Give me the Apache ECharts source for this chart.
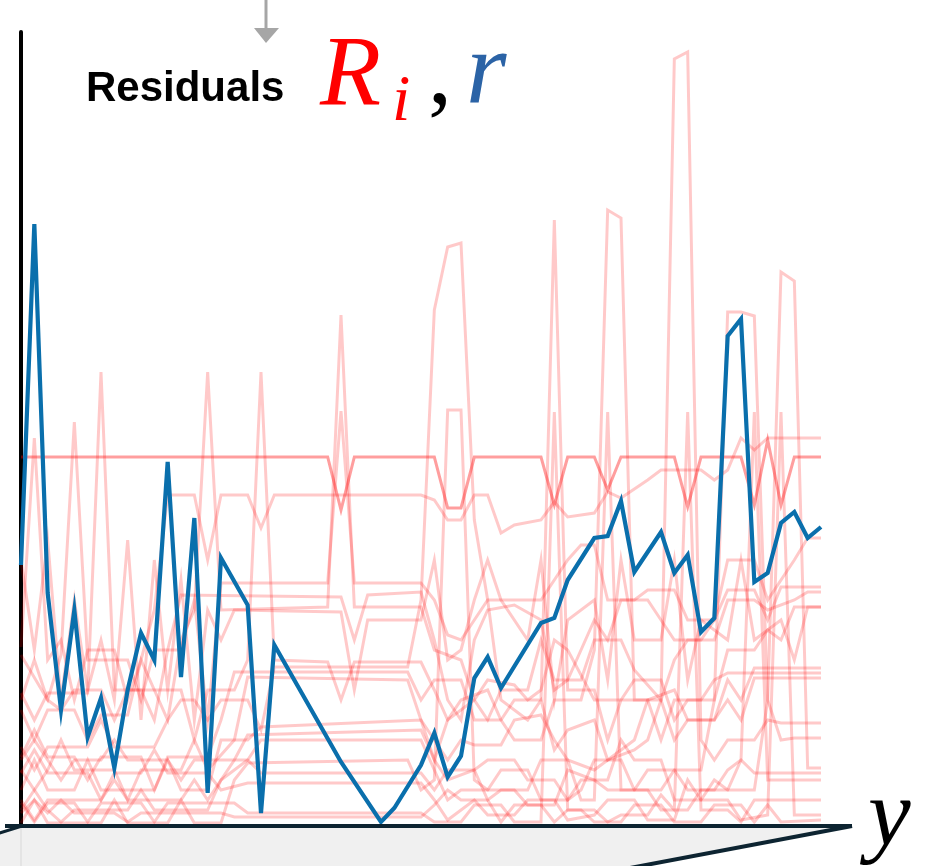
<!DOCTYPE html>
<html><head><meta charset="utf-8">
<script src="https://cdn.jsdelivr.net/npm/echarts@6/dist/echarts.min.js"></script>
<style>html,body{margin:0;padding:0;background:#fff}#c{width:931px;height:866px}</style>
</head><body><div id="c"></div>
<script>
// x = sample index along sorted y (0..60); values = residuals (arbitrary units)
const blueR = [[0,2.60],[1,6.01],[2,2.32],[3,1.15],[4,2.15],[5,0.88],[6,1.27],[7,0.57],[8,1.35],[9,1.92],[10,1.65],[11,3.63],[12,1.48],[13,3.07],[14,0.32],[15,2.67],[17,2.20],[18,0.12],[19,1.80],[24,0.63],[27,0.03],[28,0.17],[30,0.60],[31,0.92],[32,0.48],[33,0.69],[34,1.47],[35,1.68],[36,1.37],[39,2.02],[40,2.07],[41,2.45],[43,2.87],[44,2.89],[45,3.24],[46,2.53],[48,2.93],[49,2.52],[50,2.70],[51,1.93],[52,2.07],[53,4.89],[54,5.06],[55,2.43],[56,2.52],[57,3.02],[58,3.13],[59,2.87],[60,2.98]];

const red0 = [[0,3.68],[23,3.68],[24,3.15],[25,3.68],[31,3.68],[32,3.17],[33,3.17],[34,3.68],[39,3.68],[40,3.20],[41,3.68],[43,3.68],[44,3.35],[45,3.68],[49,3.68],[50,3.18],[51,3.68],[54,3.68],[55,3.20],[56,3.85],[57,3.20],[58,3.68],[60,3.68]];
const red1 = [[0,1.78],[1,3.87],[2,1.65],[3,1.85],[4,1.25],[5,1.75],[7,1.75],[8,1.25],[9,1.65],[10,2.15],[11,3.30],[13,3.30],[14,2.65],[15,3.30],[17,3.30],[18,2.97],[19,3.30],[30,3.30],[31,3.25],[32,3.05],[33,3.05],[34,3.30],[35,3.30],[36,2.92],[37,3.00],[39,3.05],[40,3.23],[41,3.08],[43,3.12],[44,3.33],[45,3.27],[47,3.45],[48,3.55],[51,3.55],[52,3.45],[53,3.55],[54,3.87],[55,3.75],[56,3.87],[60,3.87]];
const red2 = [[0,1.70],[2,1.25],[3,1.70],[4,4.03],[5,1.65],[8,1.65],[9,1.25],[10,1.75],[12,1.75],[13,2.25],[14,1.05],[15,2.42],[23,2.42],[24,4.14],[25,2.42],[30,2.42],[31,2.25],[32,1.90],[33,1.85],[35,2.25],[36,2.25],[39,2.25],[41,2.65],[42,2.80],[43,2.80],[44,2.25],[46,2.25],[47,2.35],[49,2.35],[50,2.05],[52,2.05],[53,2.65],[55,2.65],[56,2.25],[58,2.65],[59,2.87],[60,2.87]];
const red3 = [[0,1.32],[1,1.05],[2,1.32],[5,1.32],[6,4.53],[7,1.35],[9,1.35],[10,1.05],[11,1.75],[12,2.30],[24,2.28],[25,1.85],[26,2.30],[30,2.33],[31,1.85],[32,1.25],[33,1.05],[34,1.85],[35,2.15],[37,2.20],[39,2.05],[40,1.35],[41,1.45],[43,2.05],[44,1.85],[45,2.25],[47,2.25],[48,2.05],[49,1.85],[51,1.85],[52,2.05],[53,2.35],[55,2.35],[56,2.05],[57,2.38],[60,2.38]];
const red4 = [[0,1.25],[1,1.65],[2,1.25],[3,1.15],[4,1.35],[6,1.35],[7,1.05],[8,1.35],[10,1.35],[11,1.05],[12,1.85],[13,2.15],[14,4.53],[15,2.15],[23,2.18],[24,5.10],[25,2.18],[30,2.18],[31,1.75],[33,1.65],[34,1.25],[35,1.05],[36,1.35],[38,1.35],[39,1.85],[40,1.45],[42,1.45],[43,1.85],[45,1.85],[46,1.55],[48,1.25],[49,1.65],[50,1.85],[52,1.85],[53,2.25],[55,2.25],[56,2.15],[58,2.25],[59,2.33],[60,2.33]];
const red5 = [[0,1.15],[1,0.85],[2,1.15],[4,1.15],[5,0.85],[6,1.10],[8,1.10],[9,1.65],[10,1.35],[12,1.35],[13,0.85],[14,1.35],[16,1.35],[17,1.65],[18,4.53],[19,1.65],[23,1.63],[24,1.25],[25,1.63],[30,1.63],[31,1.35],[32,1.05],[34,1.25],[35,1.45],[37,1.40],[38,1.25],[39,1.35],[40,1.85],[41,1.75],[43,1.25],[45,1.25],[46,1.45],[48,1.45],[49,1.05],[50,1.25],[52,1.25],[53,1.75],[55,1.75],[56,1.95],[57,1.85],[58,2.18],[60,2.18]];
const red6 = [[0,0.78],[1,0.55],[2,0.78],[5,0.78],[6,1.05],[7,0.78],[10,0.78],[11,1.05],[12,1.25],[13,1.25],[14,1.05],[15,1.25],[17,1.25],[18,0.95],[19,1.58],[29,1.58],[30,2.25],[31,5.15],[32,5.78],[33,5.82],[34,3.05],[35,2.25],[36,1.25],[38,1.05],[39,1.25],[40,0.75],[41,0.95],[43,1.05],[44,0.65],[46,0.85],[47,1.25],[49,1.35],[50,1.05],[52,1.05],[53,1.45],[54,1.25],[55,1.57],[60,1.57]];
const red7 = [[0,0.68],[1,0.95],[2,0.68],[4,0.68],[5,0.45],[6,0.68],[9,0.68],[10,0.35],[11,0.68],[14,0.68],[15,1.05],[16,1.53],[29,1.53],[30,1.25],[31,1.45],[33,1.45],[34,1.05],[36,1.05],[37,1.25],[39,1.25],[40,6.05],[41,1.35],[43,1.35],[44,0.85],[45,1.25],[47,1.25],[48,0.85],[49,1.25],[51,1.25],[52,1.45],[53,1.52],[60,1.52]];
const red8 = [[0,0.55],[1,0.35],[2,0.55],[3,0.85],[4,0.55],[7,0.55],[8,0.25],[9,0.55],[12,0.55],[13,0.85],[14,0.55],[16,0.85],[17,1.48],[29,1.45],[30,1.05],[31,0.65],[32,1.05],[33,1.25],[35,1.35],[36,1.05],[37,0.85],[39,0.85],[40,1.25],[42,1.25],[43,1.75],[44,6.15],[45,6.07],[46,1.25],[48,1.25],[49,0.85],[50,1.05],[52,1.05],[53,1.25],[54,1.05],[55,1.47],[60,1.47]];
const red9 = [[0,0.35],[1,0.65],[2,0.35],[4,0.35],[5,0.65],[6,0.35],[10,0.35],[11,0.65],[12,0.35],[14,0.35],[15,0.85],[17,0.85],[18,0.98],[30,1.05],[31,0.85],[32,0.65],[33,0.85],[34,0.80],[36,0.80],[37,1.05],[39,1.10],[40,0.85],[41,0.65],[43,0.55],[44,0.65],[46,0.75],[47,0.85],[48,1.25],[49,7.66],[50,7.73],[51,0.85],[52,0.65],[53,0.85],[55,0.85],[56,1.05],[57,1.02],[60,1.02]];
const red10 = [[0,0.25],[1,0.05],[2,0.25],[6,0.25],[7,0.45],[8,0.25],[12,0.25],[13,0.45],[14,0.25],[16,0.65],[17,0.90],[30,0.95],[31,0.65],[32,0.45],[34,0.55],[35,0.65],[37,0.65],[38,0.45],[40,0.45],[41,0.25],[42,0.35],[43,0.65],[45,0.65],[46,0.35],[48,0.35],[49,0.55],[51,0.55],[52,1.25],[53,5.13],[54,5.13],[55,5.09],[56,1.25],[57,0.85],[58,0.87],[60,0.87]];
const red11 = [[0,0.15],[1,0.35],[2,0.15],[3,0.03],[4,0.15],[8,0.15],[9,0.35],[10,0.15],[14,0.15],[15,0.45],[17,0.65],[18,0.85],[30,0.85],[31,0.55],[32,0.25],[33,0.35],[35,0.35],[36,0.55],[38,0.55],[39,0.25],[41,0.25],[42,0.45],[44,0.45],[45,0.85],[46,0.65],[48,0.65],[49,0.25],[51,0.25],[52,0.45],[53,0.35],[55,0.35],[56,1.25],[57,5.53],[58,5.44],[59,0.57],[60,0.57]];
const red12 = [[0,0.02],[1,0.25],[2,0.02],[6,0.02],[7,0.25],[8,0.02],[11,0.02],[12,0.25],[13,0.02],[15,0.02],[16,0.45],[17,0.62],[29,0.65],[30,0.35],[31,0.45],[32,4.15],[33,4.15],[34,0.45],[35,0.35],[37,0.35],[38,0.20],[40,0.20],[41,0.55],[43,0.45],[44,0.35],[46,0.35],[47,0.55],[49,0.55],[50,0.35],[52,0.35],[53,0.55],[54,0.65],[55,0.52],[60,0.52]];
const red13 = [[0,0.65],[1,0.85],[2,0.65],[3,0.45],[4,0.65],[6,0.65],[7,0.85],[8,0.65],[11,0.65],[12,0.45],[13,0.65],[17,0.65],[18,0.52],[30,0.52],[31,0.35],[32,0.55],[34,0.55],[35,0.25],[36,0.35],[38,0.35],[39,0.65],[41,0.65],[42,0.25],[43,0.25],[44,4.13],[45,0.35],[47,0.35],[48,0.15],[50,0.15],[51,0.35],[53,0.35],[54,0.65],[55,4.13],[56,0.45],[60,0.45]];
const red14 = [[0,0.52],[1,0.75],[2,0.52],[5,0.52],[6,0.25],[7,0.52],[9,0.52],[10,0.75],[11,0.52],[14,0.52],[15,0.35],[17,0.42],[30,0.42],[31,0.25],[32,0.05],[34,0.25],[35,0.10],[37,0.10],[38,0.25],[40,0.25],[41,0.05],[43,0.10],[44,0.25],[46,0.25],[47,0.05],[49,0.05],[50,0.45],[51,0.25],[53,0.25],[54,0.05],[56,0.10],[57,4.13],[58,0.10],[60,0.10]];
const red15 = [[0,0.22],[1,0.03],[2,0.22],[4,0.22],[5,0.03],[6,0.22],[9,0.22],[10,0.03],[11,0.22],[16,0.22],[17,0.12],[30,0.12],[31,0.03],[33,0.03],[34,0.20],[36,0.20],[37,0.03],[39,0.03],[40,4.13],[41,0.15],[42,0.15],[43,0.03],[45,0.03],[46,0.20],[48,0.20],[49,0.03],[51,0.03],[52,0.20],[54,0.20],[55,0.03],[56,0.20],[57,0.03],[60,0.05]];
const red16 = [[0,0.12],[1,0.25],[2,0.12],[3,0.25],[4,0.12],[7,0.12],[8,0.03],[9,0.12],[15,0.12],[16,0.08],[30,0.08],[31,0.20],[32,0.35],[33,0.25],[35,0.25],[36,0.03],[37,0.20],[39,0.20],[40,0.03],[41,0.15],[43,0.15],[44,0.03],[45,0.10],[47,0.10],[48,0.30],[49,0.15],[50,4.13],[51,0.15],[53,0.15],[54,0.03],[55,0.25],[60,0.25]];
const red17 = [[0,2.65],[1,1.75],[2,2.85],[3,1.25],[4,2.25],[5,1.35],[6,1.85],[7,1.25],[8,2.85],[9,1.05],[10,2.65],[11,1.35],[12,2.45],[13,1.05],[14,2.15],[15,1.85],[16,2.15],[24,2.13],[25,1.35],[26,2.05],[30,2.05],[31,2.65],[32,1.65],[33,1.75],[34,2.25],[35,2.65],[36,2.25],[38,1.85],[39,2.65],[40,1.25],[41,2.05],[43,2.25],[44,1.45],[45,2.65],[46,1.85],[48,1.85],[49,2.65],[50,1.45],[51,2.05],[53,1.85],[54,2.65],[55,1.85],[57,2.05],[58,1.65],[59,2.18],[60,2.18]];

const redLines = [red0, red1, red2, red3, red4, red5, red6, red7, red8, red9, red10, red11, red12, red13, red14, red15, red16, red17];

const chart = echarts.init(document.getElementById('c'), null, {renderer: 'canvas'});
const series = redLines.map((d, k) => ({
  type: 'line', data: d, symbol: 'none', silent: true, z: 2,
  lineStyle: {color: k === 0 ? 'rgba(255,0,0,0.38)' : 'rgba(255,0,0,0.21)', width: 3, join: 'miter'}
}));
series.push({type: 'line', data: blueR, symbol: 'none', z: 5,
  lineStyle: {color: '#0a6fac', width: 4.2, join: 'miter'}});

const dark = '#0d2431';
chart.setOption({
  animation: false,
  grid: {left: 21, right: 110, top: 32, bottom: 41},
  xAxis: {type: 'value', min: 0, max: 60, show: false},
  yAxis: {type: 'value', min: 0, max: 7.93,
    axisLine: {show: true, lineStyle: {color: '#000', width: 4}},
    axisTick: {show: false}, axisLabel: {show: false}, splitLine: {show: false}},
  graphic: [
    {type: 'polygon', z: 0, shape: {points: [[22,826],[852,826],[640,866],[0,866],[0,833]]}, style: {fill: '#f0f0f0'}},
    {type: 'line', z: 1, shape: {x1: 21, y1: 828, x2: 21, y2: 866}, style: {stroke: '#e4e4e4', lineWidth: 2}},
    {type: 'line', z: 10, shape: {x1: 5, y1: 826, x2: 852, y2: 826}, style: {stroke: dark, lineWidth: 4}},
    {type: 'line', z: 10, shape: {x1: 852, y1: 826, x2: 630, y2: 868}, style: {stroke: dark, lineWidth: 4}},
    {type: 'line', z: 10, shape: {x1: 22, y1: 826, x2: -10, y2: 836}, style: {stroke: dark, lineWidth: 3}},
    {type: 'line', z: 10, shape: {x1: 266, y1: 0, x2: 266, y2: 30}, style: {stroke: '#a6a6a6', lineWidth: 3}},
    {type: 'polygon', z: 10, shape: {points: [[254,28],[279,28],[266,43]]}, style: {fill: '#a6a6a6'}},
    {type: 'text', z: 10, left: 86, top: 68, style: {text: 'Residuals', fill: '#000', font: 'bold 42px "Liberation Sans", Arial, sans-serif'}},
    {type: 'text', z: 10, left: 320, top: 28, style: {text: 'R', fill: '#ff0000', font: 'italic 100px "Liberation Serif", "DejaVu Serif", serif'}},
    {type: 'text', z: 10, left: 392, top: 70, style: {text: 'i', fill: '#ff0000', font: 'italic 66px "Liberation Serif", "DejaVu Serif", serif'}},
    {type: 'text', z: 10, left: 428, top: 30, style: {text: ',', fill: '#000', font: '96px "Liberation Serif", "DejaVu Serif", serif'}},
    {type: 'text', z: 10, left: 466, top: 24, style: {text: 'r', fill: '#2b63a6', font: 'italic 104px "Liberation Serif", "DejaVu Serif", serif'}},
    {type: 'text', z: 10, left: 868, top: 772, style: {text: 'y', fill: '#000', font: 'italic 96px "Liberation Serif", "DejaVu Serif", serif'}}
  ],
  series: series
});
</script>
</body></html>
